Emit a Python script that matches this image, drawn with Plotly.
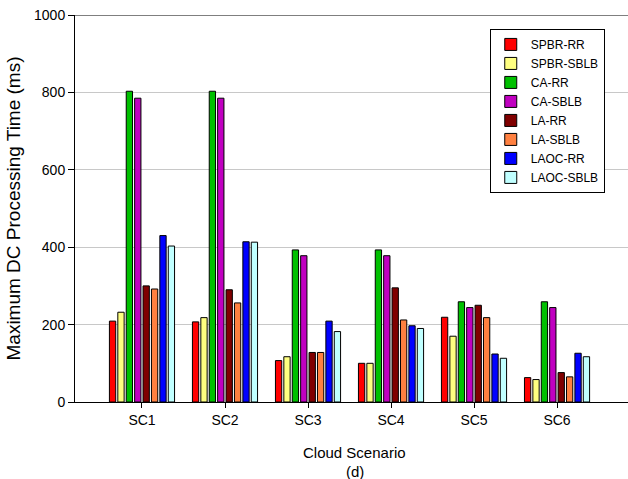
import plotly.graph_objects as go

categories = ["SC1", "SC2", "SC3", "SC4", "SC5", "SC6"]
series_names = ["SPBR-RR", "SPBR-SBLB", "CA-RR", "CA-SBLB", "LA-RR", "LA-SBLB", "LAOC-RR", "LAOC-SBLB"]
spbr_rr   = [209, 207, 107, 100, 219, 63]
spbr_sblb = [232, 218, 117, 100, 170, 58]
ca_rr     = [803, 803, 393, 393, 259, 259]
ca_sblb   = [785, 785, 378, 378, 244, 244]
la_rr     = [300, 290, 128, 295, 250, 76]
la_sblb   = [292, 256, 128, 212, 218, 65]
laoc_rr   = [430, 414, 209, 197, 124, 126]
laoc_sblb = [403, 413, 182, 190, 113, 117]
series_values = [spbr_rr, spbr_sblb, ca_rr, ca_sblb, la_rr, la_sblb, laoc_rr, laoc_sblb]
colors = ["#FF0000", "#FFFF80", "#00C000", "#C000C0", "#800000", "#FF8040", "#0000FF", "#C0FFFF"]
y_ticks = [0, 200, 400, 600, 800, 1000]

FONT = "Arial, Liberation Sans, sans-serif"

fig = go.Figure()
for name, vals, col in zip(series_names, series_values, colors):
    fig.add_trace(go.Bar(
        x=list(range(len(categories))), y=vals, name=name,
        marker=dict(color=col, line=dict(color="black", width=1)),
    ))

fig.update_layout(
    width=628, height=479,
    margin=dict(l=75, r=0, t=15, b=77),
    plot_bgcolor="white", paper_bgcolor="white",
    barmode="group", bargap=0.19, bargroupgap=0.25,
    font=dict(family=FONT, size=14, color="black"),
    showlegend=True,
    legend=dict(
        x=0.75, y=0.964, xanchor="left", yanchor="top",
        bgcolor="white", bordercolor="black", borderwidth=1,
        font=dict(family=FONT, size=12, color="black"),
        tracegroupgap=0, itemwidth=30,
    ),
    xaxis=dict(
        range=[-0.807, 5.855],
        tickmode="array", tickvals=list(range(len(categories))), ticktext=categories,
        ticks="outside", ticklen=5, tickcolor="black",
        showline=True, linecolor="black", linewidth=1,
        showgrid=False, zeroline=False,
        tickfont=dict(family=FONT, size=14),
    ),
    yaxis=dict(
        range=[0, 1000],
        tickmode="array", tickvals=y_ticks,
        ticks="outside", ticklen=6, tickcolor="black",
        showline=True, linecolor="black", linewidth=1,
        showgrid=True, gridcolor="#C8C8C8", gridwidth=1,
        zeroline=False,
        tickfont=dict(family=FONT, size=14),
        title=dict(text="Maximum DC Processing Time (ms)", font=dict(family=FONT, size=19), standoff=8),
    ),
    shapes=[dict(type="line", xref="paper", yref="y", x0=0, x1=1, y0=1000, y1=1000,
                 line=dict(color="#555555", width=1.5))],
    annotations=[
        dict(text="Cloud Scenario", xref="paper", yref="paper", x=0.506, y=-0.130,
             xanchor="center", yanchor="middle", showarrow=False, font=dict(family=FONT, size=15)),
        dict(text="(d)", xref="paper", yref="paper", x=0.506, y=-0.180,
             xanchor="center", yanchor="middle", showarrow=False, font=dict(family=FONT, size=15)),
    ],
)

fig.write_html("out.html")
